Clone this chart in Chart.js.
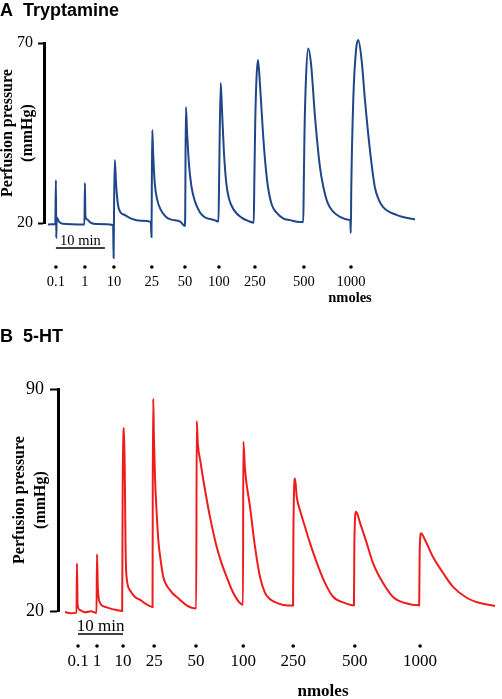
<!DOCTYPE html>
<html>
<head>
<meta charset="utf-8">
<script src="https://cdn.jsdelivr.net/npm/chart.js@4"></script>
<style>
body{margin:0;background:#fff;width:502px;height:699px;overflow:hidden;position:relative}
canvas{position:absolute;left:0}
#chartA{top:0}
#chartB{top:310px}
</style>
</head>
<body>
<canvas id="chartA" width="502" height="310"></canvas>
<canvas id="chartB" width="502" height="389"></canvas>
<script>
// dose labels (nmoles) shared by both panels
const doses = ['0.1','1','10','25','50','100','250','500','1000'];

// Panel A: tryptamine trace, time in min, pressure in mmHg
const doseTimeA = [1.63, 7.55, 13.47, 21.2, 27.96, 34.9, 42.24, 52.24, 61.84];
const timeA = [
  0, 1.5, 1.63, 1.7, 1.8, 2.3, 3, 7.45,
  7.55, 7.65, 8.0, 8.6, 10, 13.3,
  13.4, 13.5, 13.65, 13.9, 14.3, 14.8, 15.7, 17, 19, 21.0,
  21.13, 21.2, 21.3, 21.45, 21.8, 22.3, 22.9, 24, 25, 27, 27.9,
  28.0, 28.15, 28.4, 28.8, 29.3, 30, 31, 32, 34, 34.8,
  34.95, 35.25, 35.5, 35.9, 36.4, 37, 38, 39.5, 41, 42.0,
  42.1, 42.3, 42.55, 42.86, 43.2, 43.88, 44.4, 44.9, 45.7, 46.7, 48, 49.4, 51.4, 52.1,
  52.2, 52.35, 52.65, 53.1, 53.7, 54.5, 55.5, 56.2, 57.1, 58.3, 59.6, 61.6, 61.7,
  61.8, 61.9, 62.3, 62.86, 63.33, 64, 64.7, 65.7, 66.7, 67.5, 68.4, 71.2, 74.5, 74.9
];
const pressA = [
  19.6, 19.7, 31.9, 15.8, 21.5, 20.3, 19.8, 19.6,
  31.1, 22, 21, 20.2, 19.7, 19.4,
  10.3, 25, 37.5, 31, 25, 23, 22.2, 21.2, 20.6, 20.3,
  16.1, 30, 45.8, 40, 31, 26.5, 24, 21.8, 21, 20.4, 19.2,
  21, 52.2, 45, 36, 30, 26, 23, 21.6, 20.8, 20.4,
  34, 58.9, 52, 40, 31, 26.5, 23.5, 21.5, 20.5, 20.1,
  30, 48, 60, 65.3, 60, 45, 36, 30, 25, 22.8, 21.3, 20.8, 20.3, 20.3,
  30, 45, 60, 68.5, 64, 49.4, 35.6, 30, 25.5, 23, 21.7, 20.8, 20.7,
  17.2, 30, 54, 68, 70.8, 65.3, 54, 40.3, 30, 26.5, 24.4, 22.2, 21.1, 21.0
];
const yTicksA = [20, 70];

// Panel B: 5-HT trace
const doseTimeB = [2.89, 7.11, 12.9, 19.8, 29.1, 39.6, 50.7, 64.4, 78.9];
const timeB = [
  0, 1.2, 2.55, 2.65, 2.8, 3.3, 4.5, 5.8, 7.0,
  7.1, 7.3, 7.8, 8.9, 10.5, 12.7,
  12.8, 13.1, 13.3, 13.45, 13.6, 14.4, 15.5, 16.7, 18, 19.45,
  19.5, 19.6, 19.75, 20, 20.4, 20.73, 21.3, 21.84, 23.33, 25.56, 27, 29.15,
  29.27, 29.5, 30.1, 30.73, 31.5, 32.22, 33.71, 34.8, 35.93, 37.4, 38.89, 39.55,
  39.62, 40, 41.11, 42.22, 43.33, 44.44, 45.5, 46.67, 48.5, 50.67,
  50.75, 51.11, 51.49, 52.22, 53.33, 54.44, 56.29, 57.78, 59.62, 62.22, 64.2,
  64.3, 64.67, 65.56, 67.04, 68.44, 70.67, 72.89, 75.56, 78.7,
  78.8, 79.11, 80, 81.78, 84, 86.22, 89.33, 92.22, 95.56
];
const pressB = [
  19.7, 19.3, 19.5, 35.0, 22, 20.3, 19.6, 19.9, 19.4,
  37.9, 27, 22.5, 21.3, 20.6, 20.0,
  55, 77.7, 61.3, 40.8, 32, 26.6, 24.5, 23.5, 22.2, 21.3,
  60, 86.9, 75, 62, 50, 42.4, 35.5, 30.7, 26.6, 23.5, 21.8, 20.8,
  79.9, 73, 67, 61.3, 55, 49.6, 40.2, 35, 30.7, 25.7, 22.5, 22.0,
  73.4, 64.5, 52.8, 40.2, 30.7, 25.7, 23.8, 22.8, 21.9, 21.7,
  45, 61.8, 56, 51.8, 46.5, 41.4, 33.9, 28.8, 24.4, 22.5, 21.8,
  42, 51.3, 47.8, 41.4, 35.1, 28.8, 24.4, 22.5, 21.8,
  38, 44.5, 42.4, 37, 32, 27.6, 24.1, 22.5, 21.6
];
const yTicksB = [20, 90];

function pts(t, p){ return t.map((x,i)=>({x, y:p[i]})); }

// draws dose dots + labels, the 10 min bar and "nmoles"
function annot(o){
  return {
    id: 'annot',
    afterDraw(chart){
      const ctx = chart.ctx, xs = chart.scales.x;
      ctx.save();
      ctx.fillStyle = '#000';
      ctx.strokeStyle = '#000';
      ctx.textAlign = 'center';
      ctx.textBaseline = 'middle';
      ctx.font = o.size + 'px "Liberation Serif"';
      o.times.forEach((t,i)=>{
        const x = xs.getPixelForValue(t);
        ctx.beginPath();
        ctx.arc(x, o.dotY, 1.8, 0, Math.PI*2);
        ctx.fill();
        ctx.fillText(doses[i], x, o.labelY);
      });
      const x0 = xs.getPixelForValue(o.barStart), x1 = xs.getPixelForValue(o.barStart + 10);
      ctx.lineWidth = 1.6;
      ctx.beginPath();
      ctx.moveTo(x0, o.barY); ctx.lineTo(x1, o.barY);
      ctx.stroke();
      ctx.fillText('10 min', (x0+x1)/2, o.barY - 7);
      ctx.font = 'bold ' + o.size + 'px "Liberation Serif"';
      ctx.fillText('nmoles', o.unitX, o.unitY);
      ctx.restore();
    }
  };
}

function makeChart(id, c){
  return new Chart(document.getElementById(id), {
    type: 'line',
    data: { datasets: [{
      data: pts(c.time, c.press),
      borderColor: c.color, borderWidth: c.lw,
      pointRadius: 0, cubicInterpolationMode: 'monotone', clip: false
    }]},
    options: {
      responsive: false, animation: false,
      layout: { padding: { left: 0, top: 0, right: c.padRight, bottom: c.padBottom } },
      plugins: {
        legend: { display: false }, tooltip: { enabled: false },
        title: { display: true, text: c.title, align: 'start', color: '#000',
          font: { family: '"Liberation Sans"', size: 18, weight: 'bold', lineHeight: 1.2 },
          padding: { top: c.titleTop, bottom: c.titleBottom } }
      },
      scales: {
        x: { type: 'linear', display: false, min: c.xMin, max: c.xMax },
        y: {
          min: c.yTicks[0], max: c.yTicks[1],
          afterFit: s => { s.width = c.axisX; },
          afterBuildTicks: s => { s.ticks = c.yTicks.map(v => ({ value: v })); },
          ticks: { color: '#000', padding: c.tickPad, font: { family: '"Liberation Serif"', size: c.tickSize } },
          grid: { drawOnChartArea: false, drawTicks: true, tickLength: c.tickLen, tickWidth: 2, tickColor: '#000' },
          border: { display: true, color: '#000', width: 3 },
          title: { display: true, text: ['Perfusion pressure', '(mmHg)'], color: '#000',
            font: { family: '"Liberation Serif"', size: 16, weight: 'bold', lineHeight: c.titleLH },
            padding: { top: c.yTitlePad, bottom: 0 } }
        }
      }
    },
    plugins: [annot(c.annot)]
  });
}

makeChart('chartA', {
  time: timeA, press: pressA, color: '#1f4688', lw: 2,
  title: 'A  Tryptamine', titleTop: 0, titleBottom: 21.4,
  xMin: -0.8, xMax: 80, padRight: 62, padBottom: 87,
  yTicks: yTicksA, axisX: 44, tickPad: 5, tickLen: 6, tickSize: 16,
  titleLH: 1.25, yTitlePad: -2,
  annot: { times: doseTimeA, size: 14.5, dotY: 267, labelY: 282, barStart: 1.63, barY: 248, unitX: 350, unitY: 298 }
});

makeChart('chartB', {
  time: timeB, press: pressB, color: '#ee1c1c', lw: 2,
  title: 'B  5-HT', titleTop: 16, titleBottom: 41.4,
  xMin: -1.56, xMax: 96.5, padRight: 2.7, padBottom: 88,
  yTicks: yTicksB, axisX: 58, tickPad: 6, tickLen: 8, tickSize: 18,
  titleLH: 21/16, yTitlePad: 9.5,
  annot: { times: doseTimeB, size: 17, dotY: 336, labelY: 352, barStart: 2.89, barY: 324, unitX: 323, unitY: 382 }
});
</script>
</body>
</html>
